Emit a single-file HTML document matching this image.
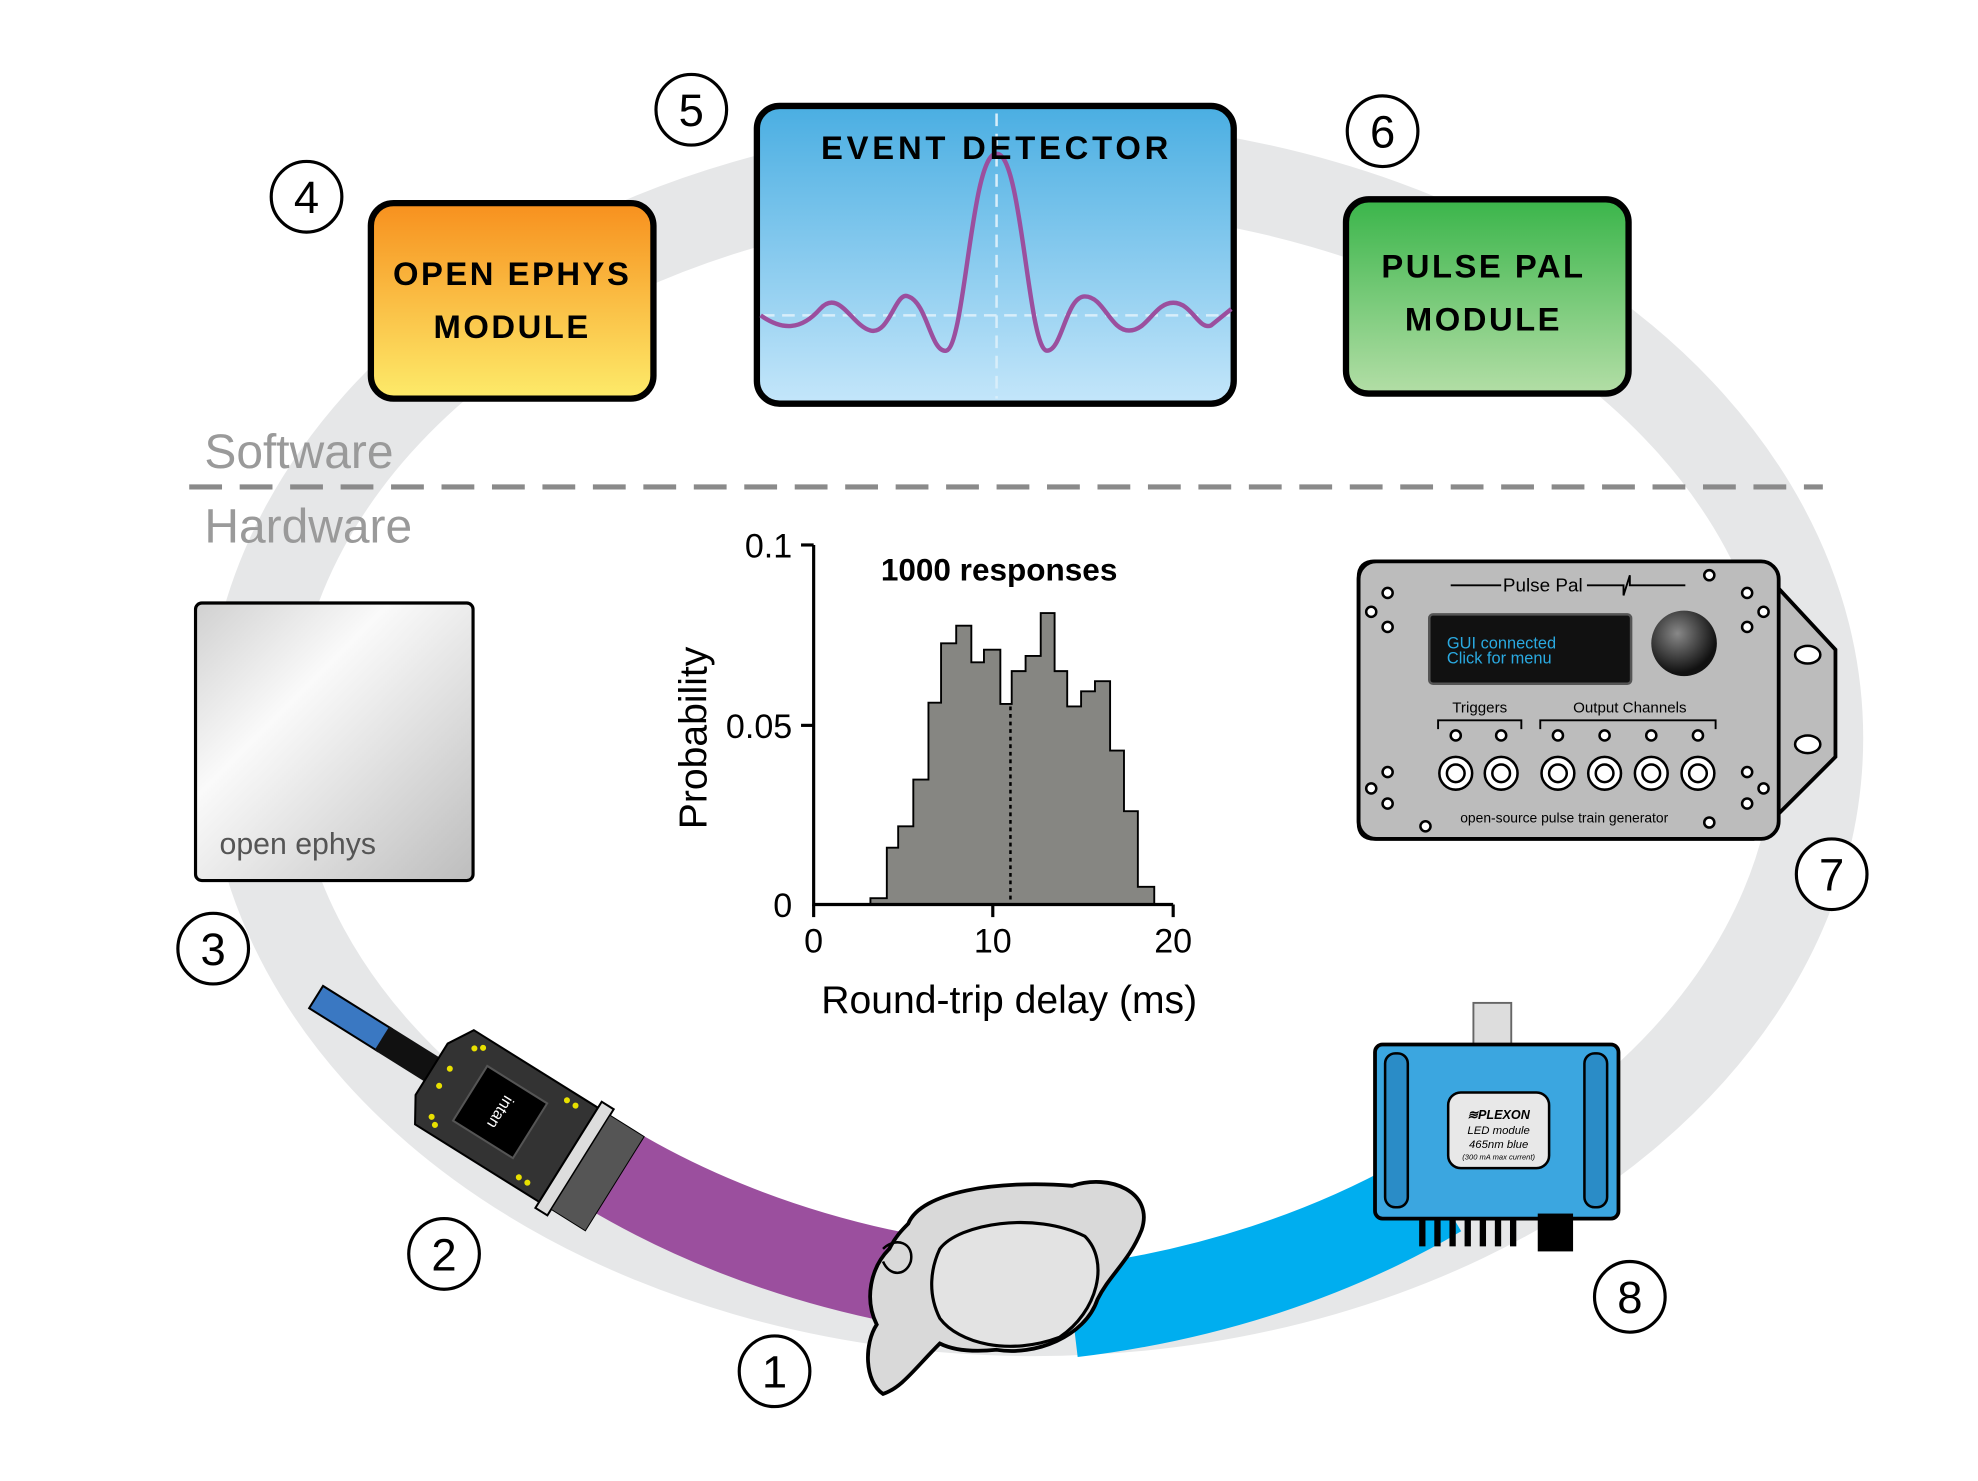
<!DOCTYPE html>
<html><head><meta charset="utf-8"><style>
html,body{margin:0;padding:0;background:#fff;}
svg{display:block;}
text{font-family:"Liberation Sans",sans-serif;}
</style></head><body>
<svg width="1978" height="1481" viewBox="0 0 1568 1174" preserveAspectRatio="none" xmlns="http://www.w3.org/2000/svg">
<defs>
<linearGradient id="go" x1="0" y1="0" x2="0" y2="1"><stop offset="0" stop-color="#f7901e"/><stop offset="1" stop-color="#fdeb6a"/></linearGradient>
<linearGradient id="gb" x1="0" y1="0" x2="0" y2="1"><stop offset="0" stop-color="#4aaee2"/><stop offset="1" stop-color="#c4e6fa"/></linearGradient>
<linearGradient id="gg" x1="0" y1="0" x2="0" y2="1"><stop offset="0" stop-color="#3ab54a"/><stop offset="1" stop-color="#b3dea6"/></linearGradient>
<linearGradient id="gs" x1="0" y1="0" x2="1" y2="1"><stop offset="0" stop-color="#d0d0d0"/><stop offset="0.35" stop-color="#fafafa"/><stop offset="1" stop-color="#bdbdbd"/></linearGradient>
<radialGradient id="knob" cx="0.4" cy="0.35" r="0.6"><stop offset="0" stop-color="#888"/><stop offset="1" stop-color="#111"/></radialGradient>
</defs>
<ellipse cx="820" cy="585" rx="622" ry="455" fill="none" stroke="#e6e7e8" stroke-width="70"/>
<path d="M 450 905 A 622 455 0 0 0 740 1018" fill="none" stroke="#9b4f9e" stroke-width="72"/>
<path d="M 850 1040 A 622 455 0 0 0 1140 945" fill="none" stroke="#00aeef" stroke-width="72"/>
<line x1="150" y1="386" x2="1445" y2="386" stroke="#8a8a8a" stroke-width="4" stroke-dasharray="26 14"/>
<text x="162" y="371" font-size="38" fill="#9a9a9a">Software</text>
<text x="162" y="430" font-size="38" fill="#9a9a9a">Hardware</text>
<rect x="294" y="161" width="224" height="155" rx="18" fill="url(#go)" stroke="#000" stroke-width="5"/>
<text x="406" y="226" font-size="26" font-weight="bold" text-anchor="middle" font-family="Liberation Mono,monospace" letter-spacing="2">OPEN EPHYS</text>
<text x="406" y="268" font-size="26" font-weight="bold" text-anchor="middle" font-family="Liberation Mono,monospace" letter-spacing="2">MODULE</text>
<rect x="600" y="84" width="378" height="236" rx="18" fill="url(#gb)" stroke="#000" stroke-width="5"/>
<line x1="790" y1="90" x2="790" y2="316" stroke="#d8eefa" stroke-width="2" stroke-dasharray="10 6"/>
<line x1="604" y1="250" x2="975" y2="250" stroke="#d8eefa" stroke-width="2" stroke-dasharray="10 6"/>
<path d="M603 250 C620 262 635 262 650 245 C665 228 675 258 690 262 C705 266 710 230 720 235 C735 240 738 280 750 278 C765 275 770 120 790 122 C810 120 815 278 830 278 C842 278 845 235 860 235 C875 235 880 262 895 262 C910 262 915 240 930 240 C945 240 950 262 960 258 L976 245" fill="none" stroke="#9b4f9e" stroke-width="3.5"/>
<text x="790" y="126" font-size="26" font-weight="bold" text-anchor="middle" font-family="Liberation Mono,monospace" letter-spacing="3">EVENT DETECTOR</text>
<rect x="1067" y="158" width="224" height="154" rx="18" fill="url(#gg)" stroke="#000" stroke-width="5"/>
<text x="1176" y="220" font-size="26" font-weight="bold" text-anchor="middle" font-family="Liberation Mono,monospace" letter-spacing="2">PULSE PAL</text>
<text x="1176" y="262" font-size="26" font-weight="bold" text-anchor="middle" font-family="Liberation Mono,monospace" letter-spacing="2">MODULE</text>
<g fill="#fff" stroke="#000" stroke-width="2.5">
<circle cx="243" cy="156" r="28"/><circle cx="548" cy="87" r="28"/><circle cx="1096" cy="104" r="28"/>
<circle cx="169" cy="752" r="28"/><circle cx="352" cy="994" r="28"/><circle cx="614" cy="1087" r="28"/>
<circle cx="1452" cy="693" r="28"/><circle cx="1292" cy="1028" r="28"/></g>
<g font-size="36" text-anchor="middle" fill="#000">
<text x="243" y="169">4</text><text x="548" y="100">5</text><text x="1096" y="117">6</text>
<text x="169" y="765">3</text><text x="352" y="1007">2</text><text x="614" y="1100">1</text>
<text x="1452" y="706">7</text><text x="1292" y="1041">8</text></g>
<path d="M690 717 L690 712 L703 712 L703 672 L712 672 L712 655 L724 655 L724 618 L736 618 L736 557 L746 557 L746 510 L758 510 L758 496 L770 496 L770 525 L780 525 L780 515 L793 515 L793 558 L802 558 L802 532 L813 532 L813 520 L825 520 L825 486 L836 486 L836 532 L846 532 L846 560 L857 560 L857 548 L868 548 L868 540 L880 540 L880 595 L891 595 L891 643 L902 643 L902 703 L915 703 L915 717 Z" fill="#868682" stroke="#000" stroke-width="1.5"/>
<line x1="801" y1="560" x2="801" y2="717" stroke="#000" stroke-width="2" stroke-dasharray="3 3"/>
<path d="M645 432 L645 717 L930 717" fill="none" stroke="#000" stroke-width="2.5"/>
<g stroke="#000" stroke-width="2.5"><line x1="635" y1="432" x2="645" y2="432"/><line x1="635" y1="575" x2="645" y2="575"/><line x1="787" y1="717" x2="787" y2="727"/><line x1="930" y1="717" x2="930" y2="727"/><line x1="645" y1="717" x2="645" y2="727"/></g>
<g font-size="27" fill="#000">
<text x="628" y="442" text-anchor="end">0.1</text><text x="628" y="585" text-anchor="end">0.05</text><text x="628" y="727" text-anchor="end">0</text>
<text x="645" y="755" text-anchor="middle">0</text><text x="787" y="755" text-anchor="middle">10</text><text x="930" y="755" text-anchor="middle">20</text>
<text x="800" y="803" text-anchor="middle" font-size="31">Round-trip delay (ms)</text>
<text x="0" y="0" font-size="31" text-anchor="middle" transform="translate(560 585) rotate(-90)">Probability</text>
<text x="792" y="460" text-anchor="middle" font-size="25" font-weight="bold">1000 responses</text></g>
<rect x="155" y="478" width="220" height="220" rx="5" fill="url(#gs)" stroke="#000" stroke-width="2.5"/>
<text x="174" y="677" font-size="24" fill="#555" font-family="Liberation Sans Narrow,Liberation Sans,sans-serif">open ephys</text>
<path d="M1090 445 L1390 445 L1455 515 L1455 600 L1390 665 L1090 665 Q1077 665 1077 652 L1077 458 Q1077 445 1090 445 Z" fill="#bcbcbc" stroke="#000" stroke-width="3"/>
<rect x="1077" y="445" width="333" height="220" rx="14" fill="#bcbcbc" stroke="#000" stroke-width="3"/>
<ellipse cx="1433" cy="519" rx="10" ry="7" fill="#fff" stroke="#000" stroke-width="2"/>
<ellipse cx="1433" cy="590" rx="10" ry="7" fill="#fff" stroke="#000" stroke-width="2"/>
<line x1="1150" y1="464" x2="1190" y2="464" stroke="#000" stroke-width="1.5"/>
<path d="M1258 464 L1287 464 L1287 472 L1292 456 L1292 464 L1336 464" fill="none" stroke="#000" stroke-width="1.5"/>
<text x="1223" y="469" font-size="15" text-anchor="middle">Pulse Pal</text>
<rect x="1133" y="487" width="160" height="55" rx="3" fill="#111" stroke="#555" stroke-width="2"/>
<text x="1147" y="514" font-size="13" fill="#2aa9e0" font-family="Liberation Mono,monospace">GUI connected</text>
<text x="1147" y="526" font-size="13" fill="#2aa9e0" font-family="Liberation Mono,monospace">Click for menu</text>
<circle cx="1335" cy="510" r="26" fill="url(#knob)"/>
<text x="1173" y="565" font-size="12" text-anchor="middle">Triggers</text>
<text x="1292" y="565" font-size="12" text-anchor="middle">Output Channels</text>
<path d="M1140 578 L1140 571 L1206 571 L1206 578 M1221 578 L1221 571 L1360 571 L1360 578" fill="none" stroke="#000" stroke-width="1.5"/>
<g fill="#fff" stroke="#000" stroke-width="2">
<circle cx="1154" cy="613" r="13"/><circle cx="1190" cy="613" r="13"/><circle cx="1235" cy="613" r="13"/><circle cx="1272" cy="613" r="13"/><circle cx="1309" cy="613" r="13"/><circle cx="1346" cy="613" r="13"/>
<circle cx="1154" cy="613" r="7"/><circle cx="1190" cy="613" r="7"/><circle cx="1235" cy="613" r="7"/><circle cx="1272" cy="613" r="7"/><circle cx="1309" cy="613" r="7"/><circle cx="1346" cy="613" r="7"/>
<circle cx="1154" cy="583" r="4"/><circle cx="1190" cy="583" r="4"/><circle cx="1235" cy="583" r="4"/><circle cx="1272" cy="583" r="4"/><circle cx="1309" cy="583" r="4"/><circle cx="1346" cy="583" r="4"/>
<circle cx="1100" cy="470" r="4"/><circle cx="1087" cy="485" r="4"/><circle cx="1100" cy="497" r="4"/><circle cx="1355" cy="456" r="4"/><circle cx="1385" cy="470" r="4"/><circle cx="1398" cy="485" r="4"/><circle cx="1385" cy="497" r="4"/>
<circle cx="1100" cy="612" r="4"/><circle cx="1087" cy="625" r="4"/><circle cx="1100" cy="637" r="4"/><circle cx="1130" cy="655" r="4"/><circle cx="1385" cy="612" r="4"/><circle cx="1398" cy="625" r="4"/><circle cx="1385" cy="637" r="4"/><circle cx="1355" cy="652" r="4"/></g>
<text x="1240" y="652" font-size="11" text-anchor="middle">open-source pulse train generator</text>
<rect x="1168" y="795" width="30" height="35" fill="#ddd" stroke="#666" stroke-width="1.5"/>
<rect x="1090" y="828" width="193" height="138" rx="6" fill="#3ba6e0" stroke="#000" stroke-width="3"/>
<rect x="1098" y="835" width="18" height="122" rx="8" fill="#2a8cc7" stroke="#000" stroke-width="2"/>
<rect x="1256" y="835" width="18" height="122" rx="8" fill="#2a8cc7" stroke="#000" stroke-width="2"/>
<rect x="1148" y="866" width="80" height="60" rx="10" fill="#e8e8e8" stroke="#000" stroke-width="2"/>
<text x="1188" y="887" font-size="10" font-weight="bold" font-style="italic" text-anchor="middle">≋PLEXON</text>
<text x="1188" y="899" font-size="9" font-style="italic" text-anchor="middle" font-family="Liberation Serif,serif">LED module</text>
<text x="1188" y="910" font-size="9" font-style="italic" text-anchor="middle" font-family="Liberation Serif,serif">465nm blue</text>
<text x="1188" y="919" font-size="6" font-style="italic" text-anchor="middle" font-family="Liberation Serif,serif">(300 mA max current)</text>
<g fill="#000"><rect x="1125" y="966" width="5" height="22"/><rect x="1137" y="966" width="5" height="22"/><rect x="1149" y="966" width="5" height="22"/><rect x="1161" y="966" width="5" height="22"/><rect x="1173" y="966" width="5" height="22"/><rect x="1185" y="966" width="5" height="22"/><rect x="1197" y="966" width="5" height="22"/><rect x="1219" y="962" width="28" height="30"/></g>
<g transform="translate(410 890) rotate(32) scale(0.8)">
<rect x="-235" y="-13" width="80" height="26" fill="#3a78c2" stroke="#000" stroke-width="2"/>
<rect x="-158" y="-14" width="75" height="28" fill="#111"/>
<path d="M-85 -55 L60 -55 L60 55 L-85 55 L-100 30 L-100 -30 Z" fill="#333" stroke="#000" stroke-width="2"/>
<rect x="-55" y="-32" width="70" height="64" fill="#000" stroke="#555" stroke-width="2"/>
<text x="-20" y="5" font-size="16" fill="#fff" text-anchor="middle" font-family="Liberation Serif,serif" transform="rotate(90 -20 0)">intan</text>
<g fill="#e8e000"><circle cx="-75" cy="-40" r="3"/><circle cx="-68" cy="-45" r="3"/><circle cx="-75" cy="40" r="3"/><circle cx="-68" cy="45" r="3"/><circle cx="-85" cy="-10" r="3"/><circle cx="-85" cy="10" r="3"/><circle cx="30" cy="-45" r="3"/><circle cx="40" cy="-45" r="3"/><circle cx="30" cy="45" r="3"/><circle cx="40" cy="45" r="3"/></g>
<rect x="60" y="-62" width="14" height="124" fill="#ddd" stroke="#000" stroke-width="2"/>
<rect x="74" y="-55" width="40" height="110" fill="#555" stroke="#000" stroke-width="1"/>
</g>
<path d="M720 970 C730 945 790 935 850 940 C880 930 915 945 905 975 C895 1000 880 1010 870 1030 C860 1060 820 1075 790 1070 C770 1072 755 1070 745 1065 C725 1085 715 1100 700 1105 C685 1095 685 1065 695 1050 C685 1030 690 1005 705 990 C710 980 715 975 720 970 Z" fill="#d9d9d9" stroke="#000" stroke-width="3"/>
<path d="M745 990 C760 970 820 960 860 980 C880 1000 870 1040 840 1060 C800 1075 760 1065 745 1045 C735 1025 738 1005 745 990 Z" fill="#e3e3e3" stroke="#000" stroke-width="2.5"/>
<path d="M700 990 C710 980 725 985 722 1000 C718 1012 705 1012 700 1000" fill="none" stroke="#000" stroke-width="2"/>
</svg>
</body></html>
